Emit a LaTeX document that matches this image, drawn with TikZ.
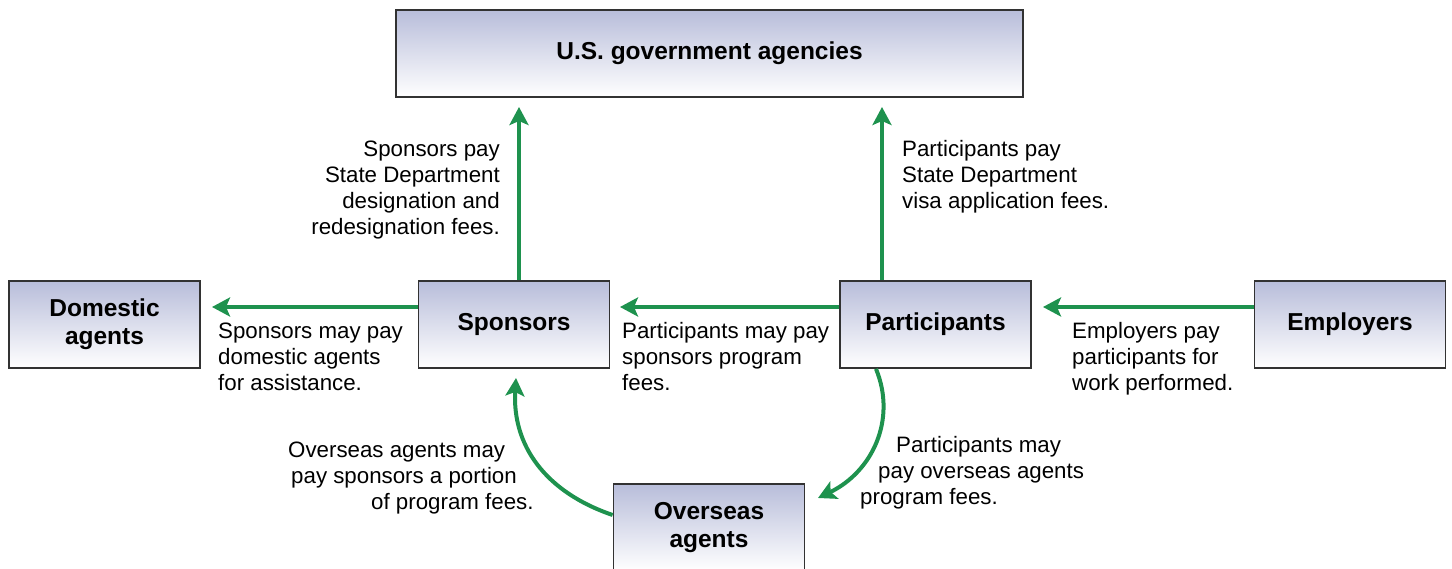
\documentclass[tikz,border=0pt]{standalone}
\usepackage{fontspec}
\setmainfont{Liberation Sans}
\usetikzlibrary{arrows.meta, positioning}
\definecolor{flowgreen}{RGB}{30,146,78}
\definecolor{boxtop}{RGB}{184,189,218}
\definecolor{boxline}{RGB}{50,50,50}
\begin{document}
\begin{tikzpicture}[x=1pt, y=-1pt, >={Stealth[length=18pt, width=19pt, inset=4pt]},
    party/.style={draw=boxline, line width=1.8pt, top color=boxtop, bottom color=white,
        minimum width=191pt, minimum height=87pt, align=center, inner sep=0pt,
        font=\fontsize{24.5}{28}\selectfont\bfseries},
    flow/.style={->, draw=flowgreen, line width=4pt},
    note/.style={inner sep=0pt, font=\fontsize{22.3}{26}\selectfont}]
    \useasboundingbox (0,0) rectangle (1452,569);
    % boxes
    \node[party, minimum width=627pt] (gov) at (709.5,53.5) {U.S. government agencies};
    \node[party] (dom) at (104.5,324.5) {Domestic\\agents};
    \node[party] (spo) at (514,324.5) {Sponsors};
    \node[party] (par) at (935.5,324.5) {Participants};
    \node[party] (emp) at (1350,324.5) {Employers};
    \node[party] (ovs) at (709,527.5) {Overseas\\agents};
    % arrow tips
    \coordinate (govin1) at (519,107);
    \coordinate (govin2) at (882,107);
    \coordinate (domin) at (212,307);
    \coordinate (spoin) at (620,307);
    \coordinate (parin) at (1043,307);
    \coordinate (spoin2) at (516,378);
    \coordinate (ovsin) at (818,498);
    % payments
    \draw[flow] (spo.north -| govin1) -- (govin1);
    \draw[flow] (par.north -| govin2) -- (govin2);
    \draw[flow] (spo.west |- domin) -- (domin);
    \draw[flow] (par.west |- spoin) -- (spoin);
    \draw[flow] (emp.west |- parin) -- (parin);
    \draw[flow] ([yshift=12.5pt]ovs.west) .. controls (545,492) and (512,445) .. (spoin2);
    \draw[flow] ([xshift=-59.5pt]par.south) .. controls (897,420) and (872,472) .. (ovsin);
    % labels (anchored at the last line)
    \node[note, anchor=base east, align=right] (lspogov) at (500,235)
        {Sponsors pay\\State Department\\designation and\\redesignation fees.};
    \node[note, anchor=base west, align=left] (lpargov) at (902,209)
        {Participants pay\\State Department\\visa application fees.};
    \node[note, anchor=base west, align=left] (lspodom) at (218,391)
        {Sponsors may pay\\domestic agents\\for assistance.};
    \node[note, anchor=base west, align=left] (lparspo) at (622,391)
        {Participants may pay\\sponsors program\\fees.};
    \node[note, anchor=base west, align=left] (lemppar) at (1072,391)
        {Employers pay\\participants for\\work performed.};
    \node[note, anchor=base west, align=left] (lovsspo) at (288,509)
        {Overseas agents may\\\hspace*{3pt}pay sponsors a portion\\\hspace*{83pt}of program fees.};
    \node[note, anchor=base west, align=left] (lparovs) at (860,504)
        {\hspace*{36pt}Participants may\\\hspace*{18pt}pay overseas agents\\program fees.};
\end{tikzpicture}
\end{document}
